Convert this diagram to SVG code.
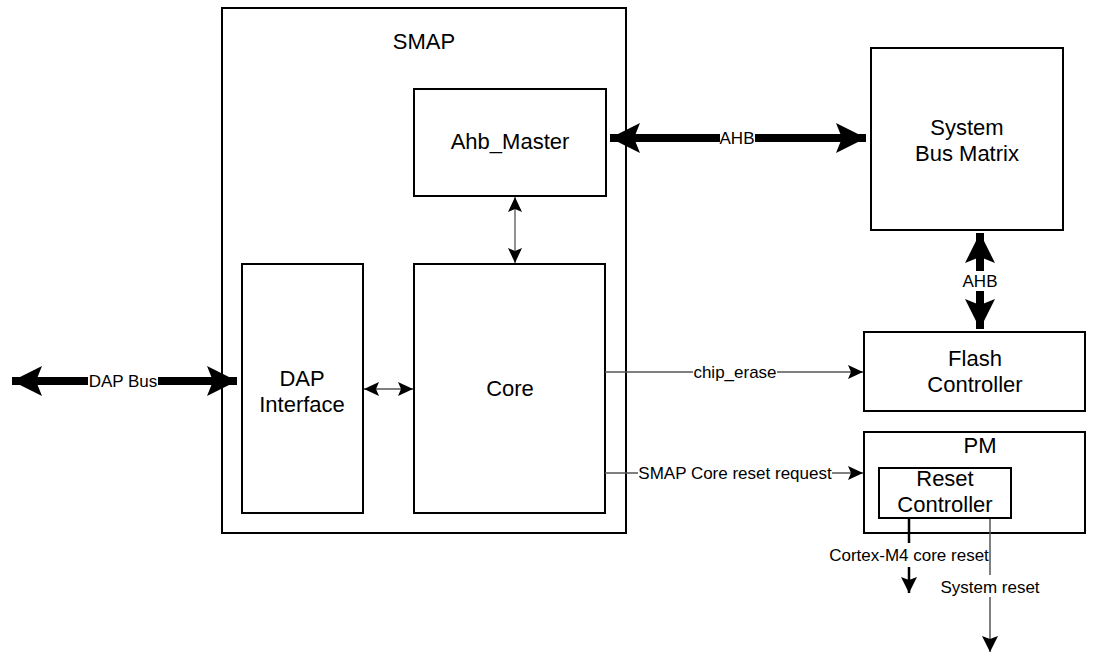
<svg xmlns="http://www.w3.org/2000/svg" width="1096" height="653" viewBox="0 0 1096 653">
<defs>
<style>
.box{fill:#fff;stroke:#000;stroke-width:2}
.nt{font-family:"Liberation Sans",Arial,sans-serif;font-size:22px;fill:#000;text-anchor:middle}
.lb{font-family:"Liberation Sans",Arial,sans-serif;font-size:17px;fill:#000;text-anchor:middle}
.thick{stroke:#000;stroke-width:8;fill:none}
.thin{stroke:#555;stroke-width:1.3;fill:none}
.bg{fill:#fff}
</style>
<marker id="big" viewBox="0 0 30 30" refX="30" refY="15" markerWidth="30" markerHeight="30" markerUnits="userSpaceOnUse" orient="auto-start-reverse"><path d="M0,0 L30,15 L0,30 L6,15 Z" fill="#000"/></marker>
<marker id="sm" viewBox="0 0 15 14" refX="15" refY="7" markerWidth="15" markerHeight="14" markerUnits="userSpaceOnUse" orient="auto-start-reverse"><path d="M0,0 L15,7 L0,14 L3,7 Z" fill="#000"/></marker>
<marker id="md" viewBox="0 0 16 16" refX="16" refY="8" markerWidth="16" markerHeight="16" markerUnits="userSpaceOnUse" orient="auto"><path d="M0,0 L16,8 L0,16 L3,8 Z" fill="#000"/></marker>
</defs>
<rect width="1096" height="653" fill="#fff"/>
<g id="smap"><rect class="box" x="222" y="8" width="404" height="525"/><text class="nt" x="424" y="49">SMAP</text></g>
<g id="ahb_master"><rect class="box" x="414" y="89" width="192" height="107"/><text class="nt" x="510" y="149">Ahb_Master</text></g>
<g id="dap_interface"><rect class="box" x="242" y="264" width="121" height="249"/><text class="nt" x="302" y="386">DAP</text><text class="nt" x="302" y="412">Interface</text></g>
<g id="core"><rect class="box" x="414" y="264" width="191" height="249"/><text class="nt" x="510" y="396">Core</text></g>
<g id="system_bus_matrix"><rect class="box" x="871" y="48" width="192" height="182"/><text class="nt" x="967" y="135">System</text><text class="nt" x="967" y="161">Bus Matrix</text></g>
<g id="flash_controller"><rect class="box" x="864" y="332" width="221" height="79"/><text class="nt" x="975" y="366">Flash</text><text class="nt" x="975" y="392">Controller</text></g>
<g id="pm"><rect class="box" x="864" y="432" width="221" height="101"/><text class="nt" x="980" y="453">PM</text></g>
<g id="reset_controller"><rect class="box" x="879" y="468" width="132" height="50"/><text class="nt" x="945" y="486">Reset</text><text class="nt" x="945" y="512">Controller</text></g>
<g id="connectors">
<line class="thick" x1="12" y1="381" x2="237" y2="381" marker-start="url(#big)" marker-end="url(#big)"/>
<rect class="bg" x="88" y="371" width="70" height="20"/>
<text class="lb" x="123" y="387">DAP Bus</text>
<line class="thick" x1="610" y1="138" x2="866" y2="138" marker-start="url(#big)" marker-end="url(#big)"/>
<rect class="bg" x="720" y="128" width="35" height="20"/>
<text class="lb" x="737" y="144">AHB</text>
<line class="thick" x1="980" y1="233" x2="980" y2="329" marker-start="url(#big)" marker-end="url(#big)"/>
<rect class="bg" x="962" y="271" width="36" height="20"/>
<text class="lb" x="980" y="287">AHB</text>
<line class="thin" x1="515" y1="197" x2="515" y2="263" marker-start="url(#sm)" marker-end="url(#sm)"/>
<line class="thin" x1="364" y1="389" x2="413" y2="389" marker-start="url(#sm)" marker-end="url(#sm)"/>
<line class="thin" x1="605" y1="372" x2="863" y2="372" marker-end="url(#sm)"/>
<rect class="bg" x="693" y="362" width="84" height="20"/>
<text class="lb" x="735" y="378">chip_erase</text>
<line class="thin" x1="605" y1="473" x2="863" y2="473" marker-end="url(#sm)"/>
<rect class="bg" x="638" y="463" width="194" height="20"/>
<text class="lb" x="735" y="479">SMAP Core reset request</text>
<line x1="909" y1="519" x2="909" y2="593" stroke="#000" stroke-width="2.5" marker-end="url(#md)"/>
<rect class="bg" x="828" y="543" width="162" height="24"/>
<text class="lb" x="909" y="561">Cortex-M4 core reset</text>
<line x1="990" y1="519" x2="990" y2="652" stroke="#555" stroke-width="1.5" marker-end="url(#md)"/>
<rect class="bg" x="939" y="575" width="102" height="22"/>
<text class="lb" x="990" y="593">System reset</text>
</g>
</svg>
